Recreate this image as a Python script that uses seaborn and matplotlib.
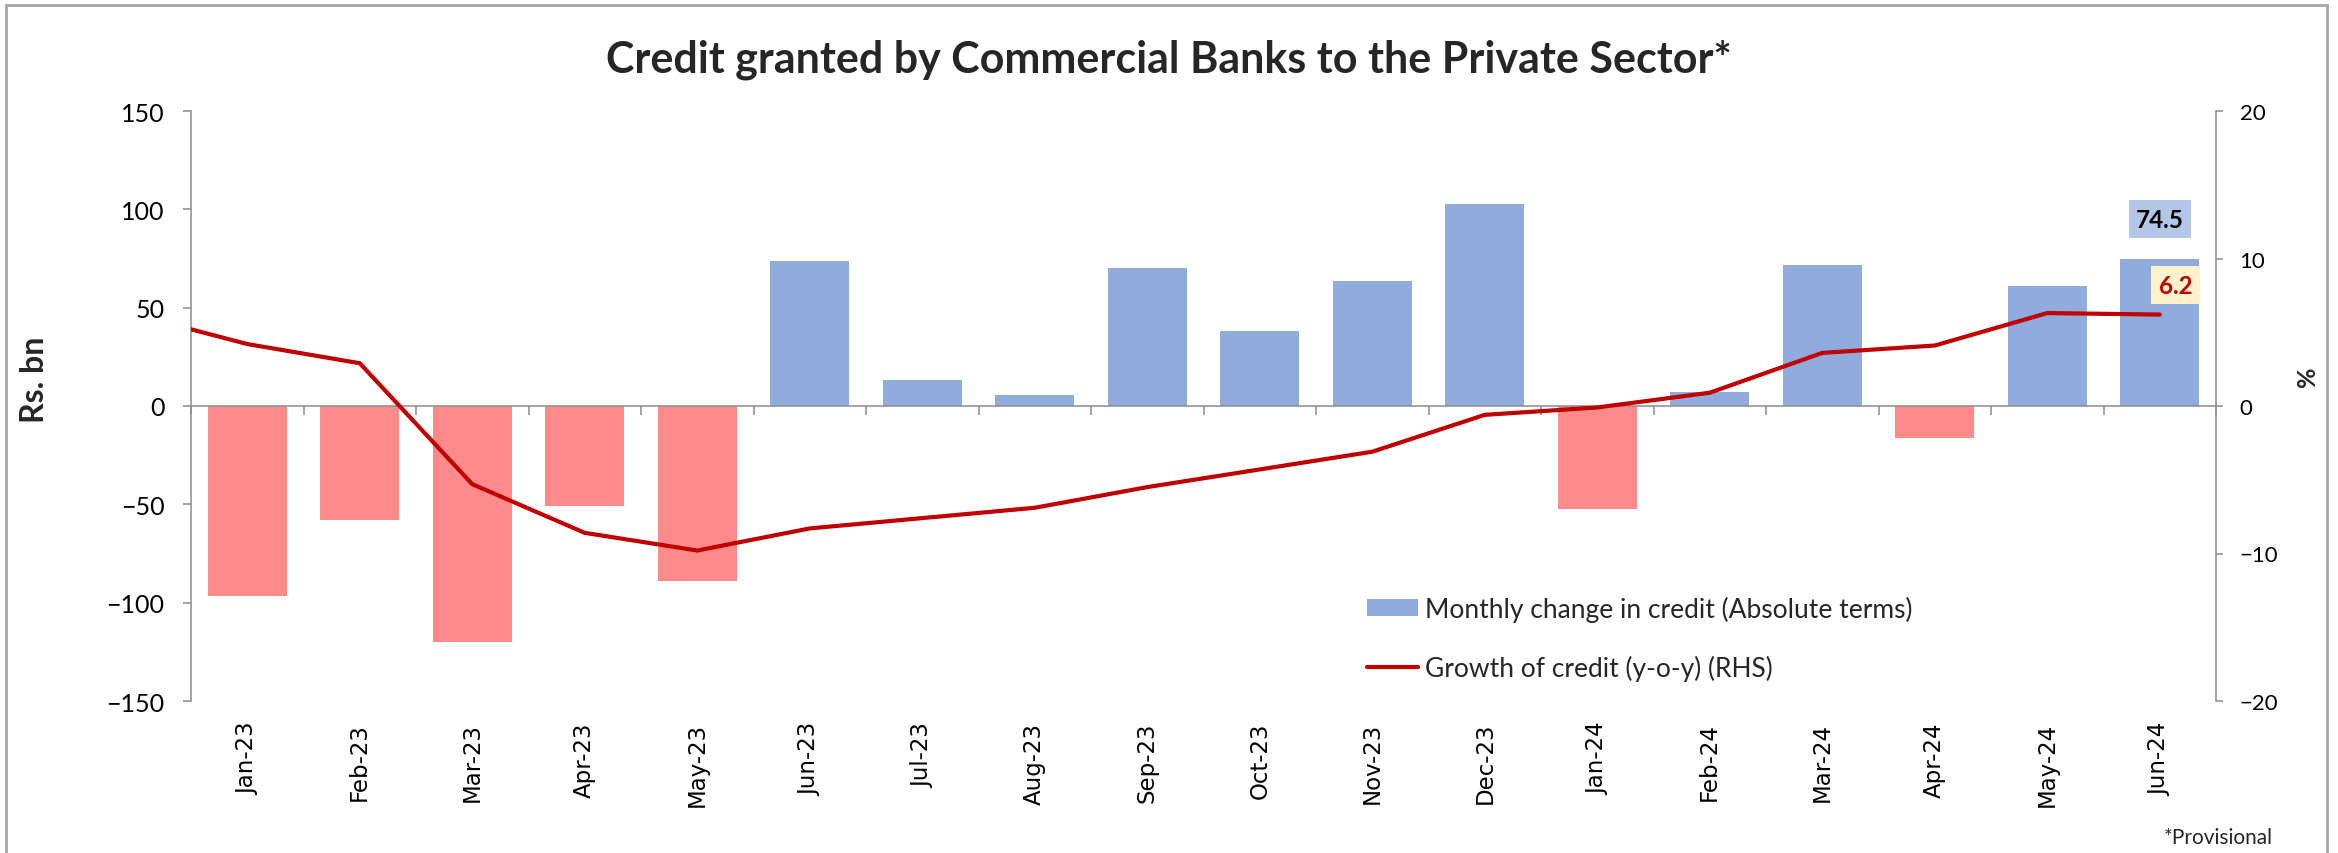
import numpy as np
import pandas as pd
import matplotlib
matplotlib.use("Agg")
import matplotlib.pyplot as plt
import seaborn as sns
from matplotlib.patches import Patch, Rectangle
from matplotlib.lines import Line2D
from matplotlib.ticker import FixedLocator

# ---- data ----
months = ["Jan-23", "Feb-23", "Mar-23", "Apr-23", "May-23", "Jun-23", "Jul-23",
          "Aug-23", "Sep-23", "Oct-23", "Nov-23", "Dec-23", "Jan-24", "Feb-24",
          "Mar-24", "Apr-24", "May-24", "Jun-24"]
# monthly change in credit, Rs. bn
credit_change = [-96.4, -57.8, -119.8, -50.7, -88.8, 73.9, 13.4, 5.8, 70.2, 38.3,
                 63.4, 102.7, -52.5, 7.3, 71.9, -16.3, 61.2, 74.5]
# y-o-y growth of credit, %, starting one month before the first bar
growth_months = ["Dec-22"] + months
credit_growth = [6.2, 4.2, 2.9, -5.3, -8.6, -9.8, -8.3, -7.6, -6.9, -5.5, -4.3,
                 -3.1, -0.6, -0.1, 0.9, 3.6, 4.1, 6.3, 6.2]

title = "Credit granted by Commercial Banks to the Private Sector*"
bar_label = "Monthly change in credit (Absolute terms)"
line_label = "Growth of credit (y-o-y) (RHS)"

BLUE = "#8FACDC"
PINK = "#FF8A8A"
RED = "#C00000"
GREY = "#8C8C8C"

W, H, DPI = 2338, 854, 100

sns.set_theme(style="white")
plt.rcParams["font.family"] = ["Lato", "DejaVu Sans"]

df = pd.DataFrame({"month": months, "change": credit_change})
df["sign"] = np.where(df["change"] >= 0, "up", "down")
gdf = pd.DataFrame({"pos": np.arange(-1, len(months)), "growth": credit_growth,
                    "month": growth_months})

fig = plt.figure(figsize=(W / DPI, H / DPI), dpi=DPI)
L, R, T, B = 191, 2216, 112, 702
ax = fig.add_axes([L / W, 1 - B / H, (R - L) / W, (B - T) / H])

sns.barplot(data=df, x="month", y="change", hue="sign", order=months,
            palette={"up": BLUE, "down": PINK}, dodge=False, legend=False,
            width=0.7, saturation=1, linewidth=0, ax=ax)

ax2 = ax.twinx()
sns.lineplot(data=gdf, x="pos", y="growth", color=RED, lw=3, ax=ax2,
             solid_capstyle="round")

ax.set_xlim(-0.5, len(months) - 0.5)
ax.set_ylim(-150, 150)
ax.set_yticks(np.arange(-150, 151, 50))
ax2.set_ylim(-20, 20)
ax2.set_yticks(np.arange(-20, 21, 10))
for a in (ax, ax2):
    a.set_xlabel("")
    a.set_ylabel("")
    a.grid(False)

# spines: left/right axis lines, category axis drawn at zero
for s in ("bottom", "right"):
    ax.spines[s].set_visible(False)
ax.spines["top"].set_position(("data", 0))
for s in ("left", "top"):
    ax.spines[s].set_color(GREY)
    ax.spines[s].set_linewidth(1.1)
for s in ("left", "top", "bottom"):
    ax2.spines[s].set_visible(False)
ax2.spines["right"].set_color(GREY)
ax2.spines["right"].set_linewidth(1.1)

ax.xaxis.set_minor_locator(FixedLocator(np.arange(-0.5, len(months), 1.0)))
ax.tick_params(axis="x", which="minor", bottom=False, top=True, labeltop=False,
               direction="in", length=6.5, width=1.1, color=GREY)
ax.tick_params(axis="x", which="major", bottom=True, top=False, length=0,
               pad=15, labelrotation=90, labelsize=16.5, labelcolor="black")
ax.tick_params(axis="y", left=True, direction="out", length=6, width=1.1,
               color=GREY, pad=13, labelsize=18, labelcolor="black")
ax2.tick_params(axis="y", right=True, direction="out", length=5, width=1.1,
                color=GREY, pad=12, labelsize=16, labelcolor="black")
for lbl in ax.get_xticklabels():
    lbl.set_fontfamily("DejaVu Sans")

# value call-outs for the latest month
ax.annotate(f"{credit_change[-1]:.1f}", xy=(len(months) - 1, credit_change[-1]),
            xytext=(0, 29), textcoords="offset points", ha="center", va="center",
            fontsize=17.5, fontweight="bold", color="black",
            bbox=dict(boxstyle="square,pad=0.3", fc="#B4C7E7", ec="none"))
ax2.annotate(f"{credit_growth[-1]:.1f}", xy=(len(months) - 1, credit_growth[-1]),
             xytext=(11.5, 21.2), textcoords="offset points", ha="center",
             va="center", fontsize=17.5, fontweight="bold", color=RED,
             bbox=dict(boxstyle="square,pad=0.32", fc="#FFF2CC", ec="none"))

# legend
handles = [Patch(facecolor=BLUE, edgecolor="none", label=bar_label),
           Line2D([], [], color=RED, lw=3, label=line_label)]
fig.legend(handles=handles, loc="upper left",
           bbox_to_anchor=(1367 / W, 1 - 597 / H), frameon=False,
           fontsize=19, handlelength=1.95, handleheight=0.62,
           handletextpad=0.25, labelspacing=1.25, borderpad=0, borderaxespad=0)

# titles and labels
fig.text(1169 / W, 1 - 60 / H, title, ha="center", va="center",
         fontsize=31, fontweight="bold")
fig.text(35 / W, 1 - 380 / H, "Rs. bn", ha="center", va="center",
         rotation=90, fontsize=23, fontweight="bold")
fig.text(2308 / W, 1 - 377 / H, "%", ha="center", va="center",
         rotation=90, fontsize=18, fontweight="bold")
fig.text(2273 / W, 1 - 838 / H, "*Provisional", ha="right", va="center",
         fontsize=15)

# outer frame
fig.add_artist(Rectangle((6 / W, -0.05), (2327 - 6) / W, 1.05 - 6 / H,
                         transform=fig.transFigure, fill=False,
                         ec="#A6A6A6", lw=2))

fig.savefig("out.png", dpi=DPI)
